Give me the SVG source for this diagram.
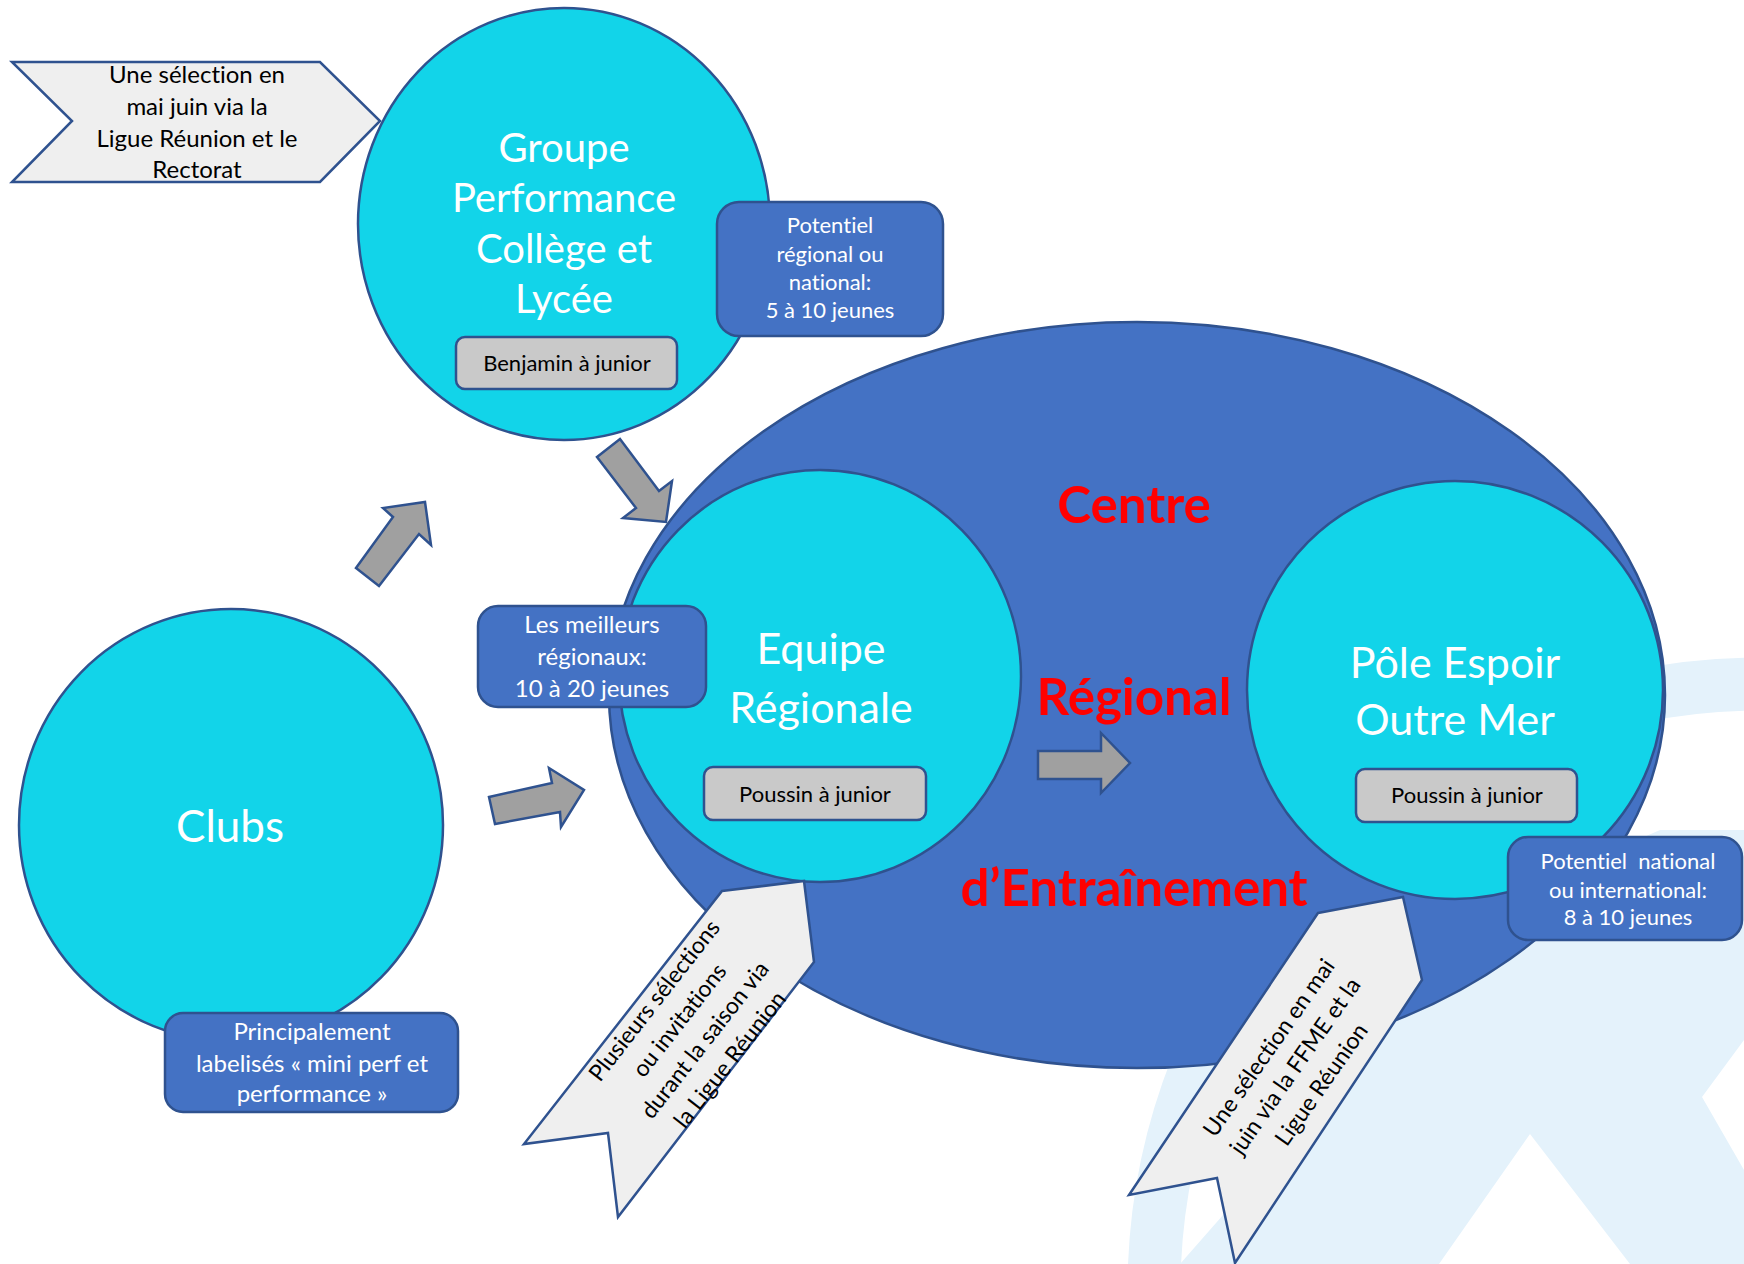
<svg xmlns="http://www.w3.org/2000/svg" width="1744" height="1264" viewBox="0 0 1744 1264">
<style>
text{font-family:Lato,"Open Sans","Liberation Sans",sans-serif;font-variant-ligatures:none;font-feature-settings:"liga" 0;}
.cyan{fill:#12d4e9;stroke:#2f528f;stroke-width:2.5;}
.big{fill:#4472c4;stroke:#2f528f;stroke-width:2.5;}
.bbox{fill:#4472c4;stroke:#2f528f;stroke-width:2.5;}
.gbox{fill:#c9c9c9;stroke:#2f528f;stroke-width:2.5;}
.arr{fill:#a0a0a0;stroke:#2f528f;stroke-width:2.5;stroke-linejoin:miter;}
.rib{fill:#efefef;stroke:#2f528f;stroke-width:2.5;}
.wm{fill:#e4f2fb;}
.tw{fill:#ffffff;text-anchor:middle;}
.tb{fill:#000000;text-anchor:middle;}
.tr{fill:#ff0000;font-weight:bold;text-anchor:middle;font-size:51px;}
</style>
<rect width="1744" height="1264" fill="#ffffff"/>
<g id="watermark">
<polygon class="wm" points="1180,1264 1500,900 1660,830 1744,830 1744,1040 1702,1097 1744,1170 1744,1264 1630,1264 1530,1134 1439,1264"/>
<circle cx="1760" cy="1290" r="606" fill="none" stroke="#e4f2fb" stroke-width="53"/>
</g>
<g id="centre-regional">
<ellipse class="big" cx="1137" cy="695" rx="528" ry="373"/>
<text class="tr" x="1134" y="523">Centre</text>
<text class="tr" x="1134" y="715">Régional</text>
<text class="tr" x="1134" y="906">d’Entraînement</text>
</g>
<g id="groupe-performance">
<ellipse class="cyan" cx="564" cy="224" rx="206" ry="216"/>
<g class="tw" font-size="40">
<text x="564" y="162">Groupe</text>
<text x="564" y="212">Performance</text>
<text x="564" y="263">Collège et</text>
<text x="564" y="313">Lycée</text>
</g>
<rect class="gbox" x="456" y="337" width="221" height="52" rx="9"/>
<text class="tb" x="567" y="371" font-size="22">Benjamin à junior</text>
</g>
<g id="selection-groupe">
<polygon class="rib" points="12,62 320,62 380,121 320,182 12,182 72,121"/>
<g class="tb" font-size="24">
<text x="197" y="83">Une sélection en</text>
<text x="197" y="115">mai juin via la</text>
<text x="197" y="147">Ligue Réunion et le</text>
<text x="197" y="178">Rectorat</text>
</g>
</g>
<g id="potentiel-regional">
<rect class="bbox" x="717" y="202" width="226" height="134" rx="22"/>
<g class="tw" font-size="22">
<text x="830" y="233">Potentiel</text>
<text x="830" y="262">régional ou</text>
<text x="830" y="290">national:</text>
<text x="830" y="318">5 à 10 jeunes</text>
</g>
</g>
<g id="equipe-regionale">
<ellipse class="cyan" cx="820" cy="676" rx="201" ry="206"/>
<g class="tw" font-size="43">
<text x="821" y="664">Equipe</text>
<text x="821" y="723">Régionale</text>
</g>
<rect class="gbox" x="704" y="767" width="222" height="53" rx="9"/>
<text class="tb" x="815" y="802" font-size="22">Poussin à junior</text>
</g>
<g id="meilleurs-regionaux">
<rect class="bbox" x="478" y="606" width="228" height="101" rx="20"/>
<g class="tw" font-size="24">
<text x="592" y="633">Les meilleurs</text>
<text x="592" y="665">régionaux:</text>
<text x="592" y="697">10 à 20 jeunes</text>
</g>
</g>
<g id="pole-espoir">
<ellipse class="cyan" cx="1455" cy="690" rx="208" ry="209"/>
<g class="tw" font-size="43">
<text x="1455" y="678">Pôle Espoir</text>
<text x="1455" y="735">Outre Mer</text>
</g>
<rect class="gbox" x="1356" y="769" width="221" height="53" rx="9"/>
<text class="tb" x="1467" y="803" font-size="22">Poussin à junior</text>
</g>
<g id="potentiel-national">
<rect class="bbox" x="1508" y="837" width="234" height="103" rx="20"/>
<g class="tw" font-size="22">
<text x="1628" y="869" xml:space="preserve">Potentiel  national</text>
<text x="1628" y="898">ou international:</text>
<text x="1628" y="925">8 à 10 jeunes</text>
</g>
</g>
<g id="clubs">
<ellipse class="cyan" cx="231" cy="825" rx="212" ry="216"/>
<text class="tw" x="230" y="842" font-size="44">Clubs</text>
</g>
<g id="principalement">
<rect class="bbox" x="165" y="1013" width="293" height="99" rx="18"/>
<g class="tw" font-size="24">
<text x="312" y="1040">Principalement</text>
<text x="312" y="1072">labelisés « mini perf et</text>
<text x="312" y="1102">performance »</text>
</g>
</g>
<g id="selection-equipe">
<polygon class="rib" points="722,891 804,881 814,962 618,1217 608,1133 524,1144"/>
<g class="tb" font-size="23" transform="translate(692,1030) rotate(-52)">
<text x="0" y="-40">Plusieurs sélections</text>
<text x="0" y="-8">ou invitations</text>
<text x="0" y="24">durant la saison via</text>
<text x="0" y="56">la Ligue Réunion</text>
</g>
</g>
<g id="selection-pole">
<polygon class="rib" points="1318,913 1403,897 1422,980 1235,1263 1217,1178 1129,1195"/>
<g class="tb" font-size="23" transform="translate(1295,1066) rotate(-55)">
<text x="0" y="-24">Une sélection en mai</text>
<text x="0" y="8">juin via la FFME et la</text>
<text x="0" y="40">Ligue Réunion</text>
</g>
</g>
<g id="connectors">
<polygon class="arr" points="356,568 393,517 383,508 425,502 431,545 419,534 379,586"/>
<polygon class="arr" points="597,457 620,439 659,491 672,481 666,522 623,518 636,508"/>
<polygon class="arr" points="489,797 552,783 549,768 584,790 561,827 560,812 495,824"/>
<polygon class="arr" points="1038,751 1101,751 1101,733 1130,763 1101,793 1101,779 1038,779"/>
</g>
</svg>
